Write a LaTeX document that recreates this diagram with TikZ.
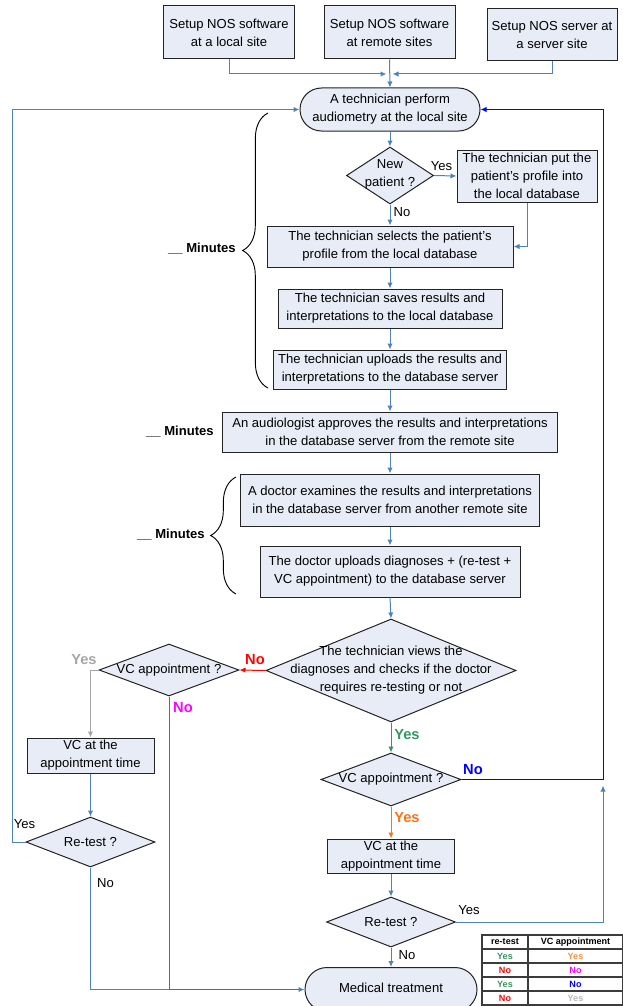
\documentclass[tikz,border=0pt]{standalone}
\usepackage{fontspec}
\setmainfont{Liberation Sans}
\usetikzlibrary{shapes.geometric,shapes.misc,arrows.meta,decorations.pathreplacing,calc}
\definecolor{boxfill}{RGB}{231,236,246}
\definecolor{boxdraw}{RGB}{35,35,35}
\definecolor{steel}{RGB}{79,129,189}
\definecolor{cgreen}{RGB}{55,150,95}
\definecolor{corange}{RGB}{250,115,20}
\definecolor{cgrey}{RGB}{166,166,166}
\definecolor{cblue}{RGB}{0,0,255}
\definecolor{cmag}{RGB}{255,0,255}
\definecolor{cred}{RGB}{255,0,0}
\definecolor{tabdraw}{RGB}{60,60,60}
\begin{document}
\begin{tikzpicture}[x=0.75pt,y=-0.75pt,
  every node/.style={font=\fontsize{9.8}{13.5}\selectfont, align=center, inner sep=0pt},
  box/.style={draw=boxdraw, fill=boxfill, line width=0.75pt, rectangle},
  term/.style={draw=boxdraw, fill=boxfill, line width=0.75pt, rounded rectangle},
  dia/.style={draw=boxdraw, fill=boxfill, line width=0.75pt, diamond},
  conn/.style={draw=steel, line width=0.75pt},
  arr/.style={-{Latex[length=4.5pt,width=4pt]}},
  lbl/.style={font=\fontsize{11}{13}\selectfont\bfseries},
  plain/.style={font=\fontsize{9.8}{12}\selectfont},
  mins/.style={font=\fontsize{9.8}{12}\selectfont\bfseries, anchor=east},
  brc/.style={draw=black, line width=0.7pt, decorate, decoration={brace, amplitude=19pt, aspect=0.5}},
  cell/.style={draw=tabdraw, line width=0.9pt, outer sep=0pt, font=\fontsize{6.8}{8}\selectfont\bfseries, minimum height=10.5pt},
  c1/.style={cell, minimum width=34.5pt},
  c2/.style={cell, minimum width=71.25pt},
]
\useasboundingbox (0,0) rectangle (623,1006);

% top boxes
\node[box, minimum width=98.25pt, minimum height=39.75pt] (b1) at (229,32.5) {Setup NOS software\\at a local site};
\node[box, minimum width=98.25pt, minimum height=39.75pt] (b2) at (389.5,32.5) {Setup NOS software\\at remote sites};
\node[box, minimum width=97.5pt, minimum height=39pt] (b3) at (552,35) {Setup NOS server at\\a server site};
\coordinate (j) at (389.5,74);

\node[term, minimum width=135pt, minimum height=32.25pt] (start) at (390,109.5) {A technician perform\\audiometry at the local site};

\node[dia, minimum width=65.25pt, minimum height=42.75pt] (np) at (390,175.5) {};
\node (npt) at (390,174) {New\\patient ?};
\node[box, minimum width=105pt, minimum height=39pt] (put) at (527,176) {The technician put the\\patient's profile into\\the local database};
\node[box, minimum width=184.5pt, minimum height=30.75pt] (sel) at (390,246.5) {The technician selects the patient's\\profile from the local database};
\node[box, minimum width=168pt, minimum height=29.25pt] (save) at (390,308.5) {The technician saves results and\\interpretations to the local database};
\node[box, minimum width=174.75pt, minimum height=29.25pt] (upl) at (390,369.5) {The technician uploads the results and\\interpretations to the database server};
\node[box, minimum width=251.25pt, minimum height=30pt] (appr) at (390,432) {An audiologist approves the results and interpretations\\in the database server from the remote site};
\node[box, minimum width=224.25pt, minimum height=39pt] (doc) at (390,500) {A doctor examines the results and interpretations\\in the database server from another remote site};
\node[box, minimum width=195pt, minimum height=38.25pt] (diag) at (390,571.5) {The doctor uploads diagnoses + (re-test +\\VC appointment) to the database server};

\node[dia, minimum width=187.5pt, minimum height=77.25pt] (big) at (391,670.5) {};
\node (bigt) at (391,670) {The technician views the\\diagnoses and checks if the doctor\\requires re-testing or not};

\node[dia, minimum width=105pt, minimum height=39pt] (lvc) at (169,670) {};
\node (lvct) at (169,670) {VC appointment ?};
\node[box, minimum width=95.25pt, minimum height=26.25pt] (lbox) at (90.5,755.5) {VC at the\\appointment time};
\node[dia, minimum width=96.75pt, minimum height=37.5pt] (lrt) at (90.5,842) {};
\node (lrtt) at (90.5,842) {Re-test ?};

\node[dia, minimum width=105pt, minimum height=39.75pt] (rvc) at (391,779.5) {};
\node (rvct) at (391,779.5) {VC appointment ?};
\node[box, minimum width=95.25pt, minimum height=25.5pt] (rbox) at (391,856) {VC at the\\appointment time};
\node[dia, minimum width=96.75pt, minimum height=37.5pt] (rrt) at (391,922) {};
\node (rrtt) at (391,922) {Re-test ?};
\node[term, minimum width=129pt, minimum height=33pt] (med) at (391,989.5) {};
\node (medt) at (391,988) {Medical treatment};

\coordinate (rx) at (603,0);
\coordinate (lx) at (12,0);
\coordinate (rj) at (rx |- rvc.east);

% connectors top
\draw[conn, arr] (b1.south) |- ([xshift=-2.25pt]j);
\draw[conn, arr] (b3.south) |- ([xshift=2.25pt]j);
\draw[conn, arr] (b2.south) -- (start.north);
\draw[conn, arr] (start.south) -- (np.north);
\draw[conn, arr] (np.east) -- (put.west);
\draw[conn, arr] (np.south) -- (sel.north);
\draw[conn, arr] (put.south) |- (sel.east);
\draw[conn, arr] (sel.south) -- (save.north);
\draw[conn, arr] (save.south) -- (upl.north);
\draw[conn, arr] (upl.south) -- (appr.north);
\draw[conn, arr] (appr.south) -- (doc.north);
\draw[conn, arr] (doc.south) -- (diag.north);
\draw[conn, arr] (diag.south) -- (big.north);

% coloured branches
\draw[draw=cred, line width=0.75pt, arr] (big.west) -- (lvc.east);
\draw[draw=cgreen, line width=0.75pt, arr] (big.south) -- (rvc.north);
\draw[draw=cgrey, line width=0.75pt, arr] (lvc.west) -| (lbox.north);
\draw[conn, arr] (lbox.south) -- (lrt.north);
\draw[conn, arr] (lrt.south) |- (med.west);
\draw[draw=cmag, line width=0.75pt] (lvc.south) |- ([xshift=-4.5pt]med.west);
\draw[draw=corange, line width=0.75pt, arr] (rvc.south) -- (rbox.north);
\draw[conn, arr] (rbox.south) -- (rrt.north);
\draw[conn, arr] (rrt.south) -- (med.north);
\draw[draw=cblue, line width=0.75pt, arr] (rvc.east) -- (rj) |- (start.east);
\draw[conn, arr] (rrt.east) -| ([yshift=-4.5pt]rj);
\draw[conn, arr] (lrt.west) -| (lx |- start.west) -- (start.west);

% labels
\node[plain] (ly1) at (441.5,166) {Yes};
\node[plain] (ln1) at (402,212) {No};
\node[lbl, text=cred] (ln2) at (255,660) {No};
\node[lbl, text=cgrey] (ly2) at (84,660) {Yes};
\node[lbl, text=cmag] (ln3) at (183,708) {No};
\node[lbl, text=cgreen] (ly3) at (407,735) {Yes};
\node[lbl, text=cblue] (ln4) at (473,770) {No};
\node[lbl, text=corange] (ly4) at (407,818) {Yes};
\node[plain] (ly5) at (469,910) {Yes};
\node[plain] (ln5) at (407,955) {No};
\node[plain] (ly6) at (24.5,824) {Yes};
\node[plain] (ln6) at (105.5,883) {No};

% braces and minutes
\coordinate (br1a) at (268,388);
\coordinate (br1b) at (268,113);
\draw[brc] (br1a) -- (br1b);
\coordinate (br2a) at (236,594);
\coordinate (br2b) at (236,477);
\draw[brc] (br2a) -- (br2b);
\node[mins] (m1) at (236,249) {\_\_ Minutes};
\node[mins] (m2) at (214,432) {\_\_ Minutes};
\node[mins] (m3) at (205,535) {\_\_ Minutes};

% table
\node[c1] (t11) at (505,942) {re-test};
\node[c2] (t12) at (575.5,942) {VC appointment};
\node[c1, text=cgreen] (t21) at (505,956) {Yes};
\node[c2, text=corange!80] (t22) at (575.5,956) {Yes};
\node[c1, text=cred] (t31) at (505,970) {No};
\node[c2, text=cmag] (t32) at (575.5,970) {No};
\node[c1, text=cgreen] (t41) at (505,984) {Yes};
\node[c2, text=cblue] (t42) at (575.5,984) {No};
\node[c1, text=cred] (t51) at (505,998) {No};
\node[c2, text=cgrey!80] (t52) at (575.5,998) {Yes};
\end{tikzpicture}
\end{document}
